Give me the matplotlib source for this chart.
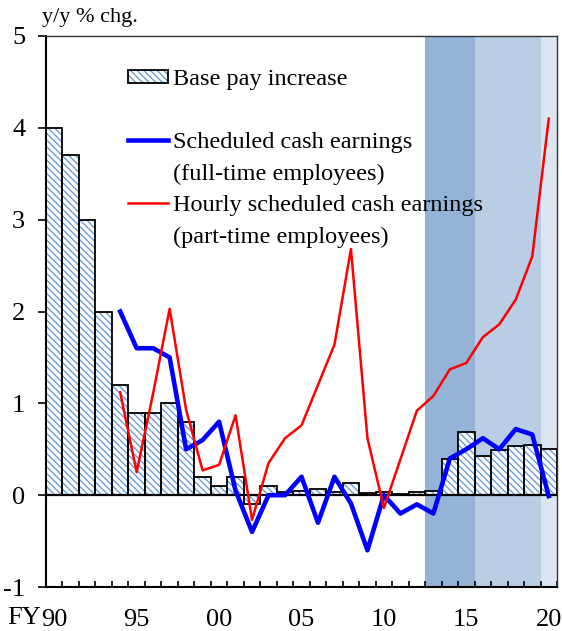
import matplotlib
matplotlib.use("Agg")
import matplotlib.pyplot as plt
import numpy as np
from matplotlib.lines import Line2D
from matplotlib.legend_handler import HandlerTuple

plt.rcParams['font.family'] = ['Liberation Serif', 'DejaVu Serif']
plt.rcParams['hatch.linewidth'] = 1.0
plt.rcParams['axes.unicode_minus'] = False

# fiscal years 1990..2020
years = np.arange(1990, 2021)
base_pay = [4.0, 3.7, 3.0, 2.0, 1.2, 0.9, 0.9, 1.0, 0.8, 0.2,
            0.1, 0.2, -0.1, 0.1, 0.03, 0.05, 0.07, 0.03, 0.13, 0.02,
            0.03, 0.01, 0.03, 0.05, 0.39, 0.69, 0.43, 0.49, 0.53, 0.55,
            0.50]
# lines start in FY1994
line_years = np.arange(1994, 2021)
full_time = [2.0, 1.6, 1.6, 1.5, 0.5, 0.6, 0.8, 0.05, -0.4, 0.0,
             0.0, 0.2, -0.3, 0.2, -0.09, -0.6, 0.0, -0.2, -0.1, -0.2,
             0.4, 0.5, 0.62, 0.5, 0.72, 0.66, -0.01]
part_time = [1.12, 0.25, 1.11, 2.03, 0.93, 0.27, 0.33, 0.87, -0.27, 0.35,
             0.62, 0.76, 1.2, 1.64, 2.68, 0.62, -0.14, 0.39, 0.92, 1.08,
             1.37, 1.44, 1.72, 1.86, 2.13, 2.6, 4.1]
tick_years = [1990, 1995, 2000, 2005, 2010, 2015, 2020]
tick_labels = ['90', '95', '00', '05', '10', '15', '20']
# shaded periods (fiscal years covered)
shade_periods = [(2013, 2015, '#95B3D7'), (2016, 2019, '#B9CDE5'), (2020, 2020, '#DCE6F2')]

fig = plt.figure(figsize=(5.62, 6.31), dpi=100)
ax = fig.add_axes([46/562, 44/631, 511/562, 551/631])

for start, end, col in shade_periods:
    ax.axvspan(start - 0.5, end + 0.5, color=col, lw=0, zorder=0)

bars_h = ax.bar(years, base_pay, width=1.0, facecolor='white', edgecolor='#6C9DD8',
                hatch='\\\\\\\\\\', linewidth=0, zorder=2)
bars_e = ax.bar(years, base_pay, width=1.0, fill=False, edgecolor='black',
                linewidth=1.3, zorder=3)

ax.axhline(0, color='black', lw=1.6, zorder=4)

l_full, = ax.plot(line_years, full_time, color='#0000FF', lw=3.3, zorder=5)
l_part, = ax.plot(line_years, part_time, color='#FF0000', lw=1.8, zorder=6)

ax.set_xlim(1989.5, 2020.5)
ax.set_ylim(-1, 5)
ax.set_yticks(range(-1, 6))
ax.tick_params(axis='y', direction='out', length=6, width=1.2, pad=9, labelsize=19)
ax.set_xticks(tick_years)
ax.set_xticklabels(tick_labels)
ax.set_xticks(np.arange(1989.5, 2021, 1), minor=True)
ax.tick_params(axis='x', which='major', length=0, pad=16, labelsize=19)
ax.tick_params(axis='x', which='minor', direction='in', length=4, width=1.2)

for s in ['left', 'bottom']:
    ax.spines[s].set_linewidth(1.5)
for s in ['top', 'right']:
    ax.spines[s].set_linewidth(1.0)
    ax.spines[s].set_color('#333333')

blank = Line2D([], [], color='none')
handles = [(bars_h, bars_e), blank, l_full, blank, l_part, blank]
labels = ['Base pay increase', ' ', 'Scheduled cash earnings', '(full-time employees)',
          'Hourly scheduled cash earnings', '(part-time employees)']
ax.legend(handles, labels, handler_map={tuple: HandlerTuple(ndivide=1)},
          loc='upper left', bbox_to_anchor=(0.16, 0.94), frameon=False,
          fontsize=17.5, handlelength=1.65, handleheight=0.5, handletextpad=0.2,
          labelspacing=0.43, borderpad=0, borderaxespad=0)

fig.text(42/562, 1 - 22/631, 'y/y % chg.', fontsize=16, va='baseline', ha='left')
fig.text(41/562, 1 - 607/631, 'FY', fontsize=19, va='top', ha='right')

fig.savefig('out.png', dpi=100)
